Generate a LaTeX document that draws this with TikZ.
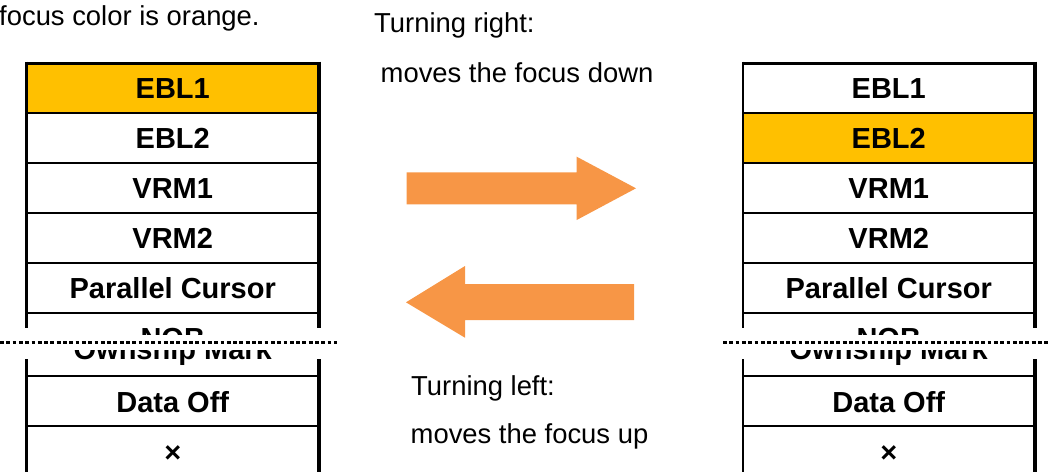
\documentclass[tikz,border=0pt]{standalone}
\usepackage{fontspec}
\setmainfont{Liberation Sans}
\definecolor{focusfill}{HTML}{FFC000}
\definecolor{arroworange}{HTML}{F79646}
\begin{document}
\begin{tikzpicture}[x=1pt,y=-1pt,
  celltext/.style={inner sep=0pt, text height=20.5pt, text depth=0pt,
    font=\fontsize{29}{33}\selectfont\bfseries},
  cuttext/.style={inner sep=0pt, anchor=base, font=\fontsize{29}{33}\selectfont\bfseries},
  note/.style={inner sep=0pt, anchor=base west, font=\fontsize{27.4}{32}\selectfont},
  rowline/.style={line width=2.5pt},
  topline/.style={line width=3pt},
  leftline/.style={line width=2.5pt},
  rightline/.style={line width=4pt},
  dotline/.style={line width=3.6pt, dash pattern=on 3.8pt off 2.5pt},
  bigarrow/.style={fill=arroworange, draw=none}]
\useasboundingbox (0,0) rectangle (1049,472);

% focus highlights
\fill[focusfill] (26.5,63) rectangle (319,113);
\fill[focusfill] (743,113) rectangle (1034.5,163);

\foreach \side/\xa/\xb in {L/26.5/319, R/743/1034.5}{
  \pgfmathsetmacro{\xc}{(\xa+\xb)/2}
  % borders
  \draw[topline] (\xa,63) -- (\xb,63);
  \foreach \yy in {113,163,213,263,313,376,426}{
    \draw[rowline] (\xa,\yy) -- (\xb,\yy);
  }
  \draw[leftline] (\xa,61.5) -- (\xa,328);
  \draw[leftline] (\xa,359) -- (\xa,472);
  \draw[rightline] (\xb,61.5) -- (\xb,328);
  \draw[rightline] (\xb,359) -- (\xb,472);
  % texts
  \node[celltext] (\side-ebl1) at (\xc,88.5) {EBL1};
  \node[celltext] (\side-ebl2) at (\xc,138.5) {EBL2};
  \node[celltext] (\side-vrm1) at (\xc,188.5) {VRM1};
  \node[celltext] (\side-vrm2) at (\xc,238.5) {VRM2};
  \node[celltext] (\side-pc) at (\xc,288.5) {Parallel Cursor};
  \begin{scope}
    \clip (\xa,313) rectangle (\xb,334);
    \node[cuttext] (\side-nob) at (\xc,348) {NOB};
  \end{scope}
  \begin{scope}
    \clip (\xa,350) rectangle (\xb,376);
    \node[cuttext] (\side-own) at (\xc,359.5) {Ownship Mark};
  \end{scope}
  \node[celltext] (\side-data) at (\xc,402) {Data Off};
  \node[celltext] (\side-x) at (\xc,452) {×};
}

% dotted cut lines
\coordinate (dlA) at (0,342.5);
\coordinate (dlB) at (337,342.5);
\coordinate (drA) at (723,342.5);
\coordinate (drB) at (1049,342.5);
\draw[dotline] (dlA) -- (dlB);
\draw[dotline] (drA) -- (drB);

% arrows
\fill[bigarrow] (406.7,172.3) -- (576.7,172.3) -- (576.7,156.7) -- (636,188.3)
  -- (576.7,220) -- (576.7,204.3) -- (406.7,204.3) -- cycle;
\fill[bigarrow] (634,284) -- (465,284) -- (465,266) -- (406,302.3)
  -- (465,337.7) -- (465,320) -- (634,320) -- cycle;

% notes
\node[note] (title) at (-1,25) {focus color is orange.};
\node[note] (rt1) at (374,32) {Turning right:};
\node[note] (rt2) at (380.5,82) {moves the focus down};
\node[note] (lt1) at (411,395) {Turning left:};
\node[note] (lt2) at (410.5,443) {moves the focus up};
\end{tikzpicture}
\end{document}
